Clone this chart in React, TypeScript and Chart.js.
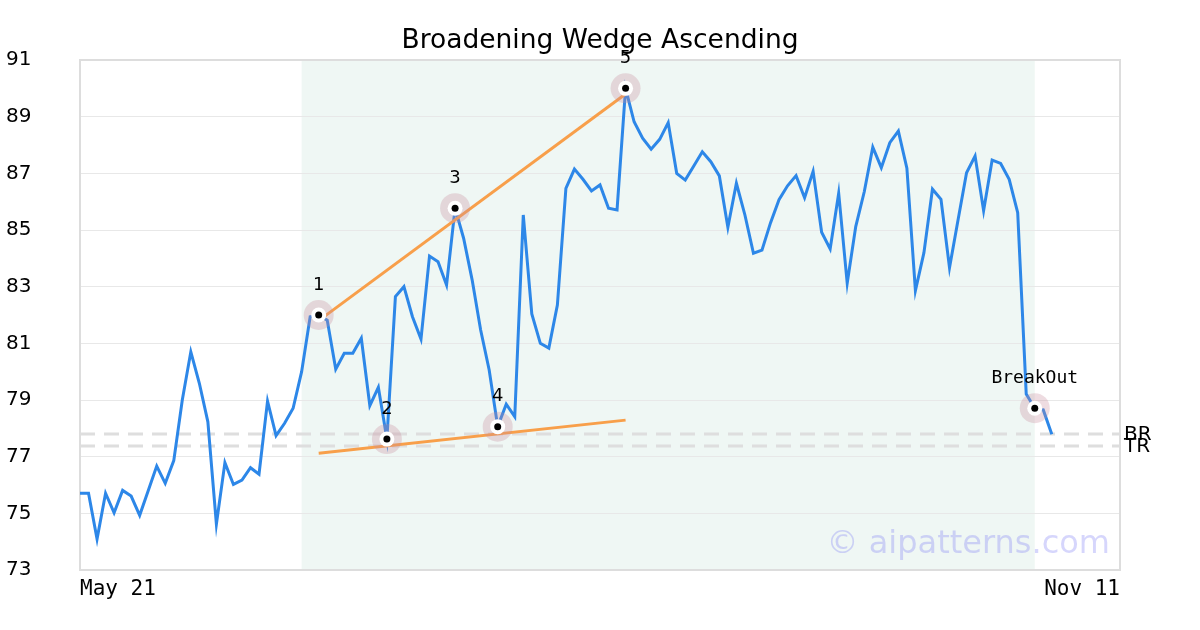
import React, { useEffect, useRef } from "react";
import { Chart, registerables } from "chart.js";

Chart.register(...registerables);

const TITLE = "Broadening Wedge Ascending";
const xTickLabels = ["May 21", "Nov 11"];
const xTickIndex = [0, 122];
const X_MAX_INDEX = 122;
const Y_MIN = 73;
const Y_MAX = 91;
const Y_STEP = 2;

const prices = [
  75.71, 75.71, 74.09, 75.71, 75.02, 75.81, 75.61, 74.93, 75.8, 76.67,
  76.06, 76.86, 79.0, 80.7, 79.59, 78.23, 74.62, 76.79, 76.02, 76.17,
  76.61, 76.38, 78.96, 77.74, 78.18, 78.71, 80.0, 81.94, 82.0, 81.82,
  80.09, 80.65, 80.65, 81.18, 78.8, 79.45, 77.62, 82.65, 83.0, 81.94,
  81.15, 84.08, 83.88, 83.06, 85.77, 84.71, 83.24, 81.47, 80.06, 78.06,
  78.85, 78.41, 85.53, 82.04, 81.0, 80.83, 82.35, 86.47, 87.15, 86.79,
  86.38, 86.59, 85.77, 85.71, 90.0, 88.82, 88.24, 87.85, 88.2, 88.79,
  87.0, 86.76, 87.26, 87.76, 87.41, 86.91, 85.1, 86.65, 85.53, 84.18,
  84.29, 85.25, 86.07, 86.56, 86.92, 86.14, 87.07, 84.92, 84.33, 86.3,
  83.12, 85.12, 86.35, 87.92, 87.2, 88.08, 88.49, 87.18, 82.86, 84.2,
  86.44, 86.08, 83.67, 85.35, 87.02, 87.61, 85.68, 87.47, 87.35, 86.79,
  85.61, 79.21, 78.71, 78.65, 77.79,
];

const patternIdx = [28, 36, 44, 49, 64, 112];
const patternLabels = ["1", "2", "3", "4", "5", "BreakOut"];

const trendIdx = [28, 64];
const upperTrendValues = [81.8, 89.8];
const lowerTrendValues = [77.12, 78.29];

const levelNames = ["BR", "TR"];
const levelValues = [77.8, 77.38];

const shadeRange = [26, 112];

const WATERMARK = "© aipatterns.com";

const decorPlugin = {
  id: "decor",
  beforeDraw(chart: any) {
    const { ctx, chartArea, scales } = chart;
    const xs = scales.x;
    const x0 = xs.getPixelForValue(shadeRange[0]);
    const x1 = xs.getPixelForValue(shadeRange[1]);
    ctx.save();
    ctx.fillStyle = "#eff7f4";
    ctx.fillRect(x0, chartArea.top, x1 - x0, chartArea.bottom - chartArea.top);
    ctx.restore();
  },
  beforeDatasetsDraw(chart: any) {
    const { ctx, chartArea, scales } = chart;
    const ys = scales.y;
    ctx.save();
    ctx.strokeStyle = "#dedede";
    ctx.lineWidth = 3;
    ctx.setLineDash([15, 9]);
    levelValues.forEach((v) => {
      const y = ys.getPixelForValue(v);
      ctx.beginPath();
      ctx.moveTo(chartArea.left, y);
      ctx.lineTo(chartArea.right, y);
      ctx.stroke();
    });
    ctx.setLineDash([]);
    ctx.strokeStyle = "#dddddd";
    ctx.lineWidth = 2;
    ctx.strokeRect(
      chartArea.left,
      chartArea.top,
      chartArea.right - chartArea.left,
      chartArea.bottom - chartArea.top
    );
    ctx.restore();
  },
  afterDraw(chart: any) {
    const { ctx, chartArea, scales } = chart;
    const xs = scales.x;
    const ys = scales.y;
    ctx.save();
    ctx.fillStyle = "#000";
    ctx.textAlign = "center";
    ctx.textBaseline = "middle";
    ctx.font = '26.5px "DejaVu Sans"';
    ctx.fillText(TITLE, (chartArea.left + chartArea.right) / 2, 41);
    patternIdx.forEach((idx, k) => {
      const label = patternLabels[k];
      ctx.font =
        label.length > 1 ? '18px "DejaVu Sans Mono"' : '18px "DejaVu Sans"';
      const px = xs.getPixelForValue(idx);
      const py = ys.getPixelForValue(prices[idx]);
      ctx.fillText(label, px, py - 30);
    });
    ctx.font = '20px "DejaVu Sans"';
    ctx.textAlign = "left";
    levelValues.forEach((v, k) => {
      ctx.fillText(levelNames[k], chartArea.right + 4, ys.getPixelForValue(v) + 1);
    });
    ctx.font = '32px "DejaVu Sans"';
    ctx.fillStyle = "rgba(120,120,245,0.3)";
    ctx.textAlign = "right";
    ctx.textBaseline = "alphabetic";
    ctx.fillText(WATERMARK, chartArea.right - 10, chartArea.bottom - 17);
    ctx.restore();
  },
};

export default function App() {
  const canvasRef = useRef<HTMLCanvasElement | null>(null);

  useEffect(() => {
    document.body.style.margin = "0";
    const canvas = canvasRef.current;
    if (!canvas) return;

    const priceData = prices.map((y, i) => ({ x: i, y }));
    const markerData = patternIdx.map((i) => ({ x: i, y: prices[i] }));

    const chart = new Chart(canvas, {
      type: "line",
      data: {
        datasets: [
          {
            type: "scatter",
            data: markerData,
            pointRadius: 3.5,
            pointHoverRadius: 3.5,
            pointBackgroundColor: "#000",
            pointBorderWidth: 0,
            order: 0,
          } as any,
          {
            type: "scatter",
            data: markerData,
            pointRadius: 7.5,
            pointHoverRadius: 7.5,
            pointBackgroundColor: "#fff",
            pointBorderWidth: 0,
            order: 1,
          } as any,
          {
            type: "scatter",
            data: markerData,
            pointRadius: 15,
            pointHoverRadius: 15,
            pointBackgroundColor: "rgba(200,140,155,0.3)",
            pointBorderWidth: 0,
            order: 2,
          } as any,
          {
            type: "line",
            data: trendIdx.map((x, k) => ({ x, y: upperTrendValues[k] })),
            borderColor: "#f89f4a",
            borderWidth: 3,
            pointRadius: 0,
            fill: false,
            order: 3,
          },
          {
            type: "line",
            data: trendIdx.map((x, k) => ({ x, y: lowerTrendValues[k] })),
            borderColor: "#f89f4a",
            borderWidth: 3,
            pointRadius: 0,
            fill: false,
            order: 4,
          },
          {
            type: "line",
            data: priceData,
            borderColor: "#2d87e8",
            borderWidth: 3,
            pointRadius: 0,
            fill: false,
            tension: 0,
            order: 5,
          },
        ],
      },
      options: {
        animation: false,
        responsive: false,
        devicePixelRatio: 1,
        events: [],
        layout: { padding: { left: 6, right: 80, top: 60, bottom: 0 } },
        plugins: {
          legend: { display: false },
          tooltip: { enabled: false },
          title: { display: false },
        },
        scales: {
          x: {
            type: "linear",
            min: 0,
            max: X_MAX_INDEX,
            grid: { display: false, drawTicks: false },
            border: { display: false },
            afterBuildTicks: (s: any) => {
              s.ticks = xTickIndex.map((v) => ({ value: v }));
            },
            afterFit: (s: any) => {
              s.height = 60;
            },
            ticks: {
              autoSkip: false,
              maxRotation: 0,
              align: "inner",
              padding: 7,
              color: "#000",
              font: { family: "DejaVu Sans Mono", size: 21 },
              callback: (v: any) => {
                const k = xTickIndex.indexOf(Number(v));
                return k >= 0 ? xTickLabels[k] : "";
              },
            },
          },
          y: {
            type: "linear",
            min: Y_MIN,
            max: Y_MAX,
            grid: { color: "#e8e8e8", lineWidth: 1, drawTicks: false },
            border: { display: false },
            afterFit: (s: any) => {
              s.width = 74;
            },
            ticks: {
              stepSize: Y_STEP,
              crossAlign: "far",
              color: "#000",
              font: { family: "DejaVu Sans", size: 20 },
            },
          },
        },
      },
      plugins: [decorPlugin],
    });

    return () => chart.destroy();
  }, []);

  return (
    <div style={{ width: 1200, height: 630 }}>
      <canvas ref={canvasRef} width={1200} height={630} />
    </div>
  );
}
